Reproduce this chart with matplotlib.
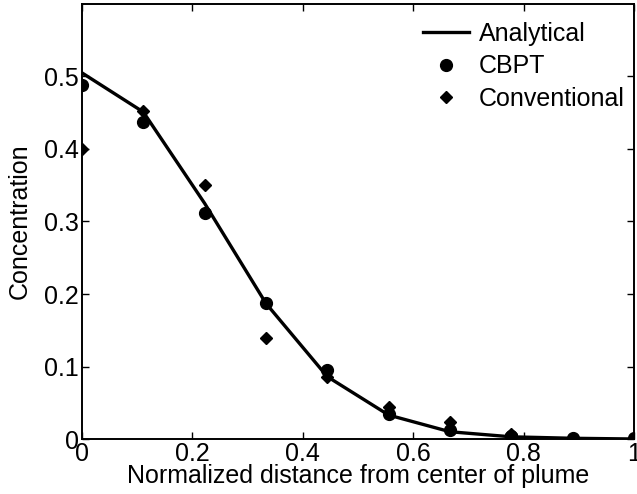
import matplotlib
matplotlib.use("Agg")
import matplotlib.pyplot as plt

x = [0.0, 0.1111, 0.2222, 0.3333, 0.4444, 0.5556, 0.6667, 0.7778, 0.8889, 1.0]
analytical = [0.505, 0.451, 0.325, 0.187, 0.086, 0.033, 0.010, 0.003, 0.001, 0.0]
cbpt = [0.488, 0.437, 0.312, 0.188, 0.095, 0.035, 0.013, 0.004, 0.001, 0.001]
conventional = [0.400, 0.452, 0.350, 0.140, 0.085, 0.044, 0.023, 0.007, 0.001, 0.001]

xticks = [0, 0.2, 0.4, 0.6, 0.8, 1]
xticklabels = ["0", "0.2", "0.4", "0.6", "0.8", "1"]
yticks = [0, 0.1, 0.2, 0.3, 0.4, 0.5]
yticklabels = ["0", "0.1", "0.2", "0.3", "0.4", "0.5"]

plt.rcParams['font.family'] = ['Liberation Sans', 'DejaVu Sans']
fig = plt.figure(figsize=(6.37, 4.94), dpi=100)
ax = fig.add_axes([82/637, 1 - 439/494, (634 - 82)/637, (439 - 4)/494])

ax.plot(x, analytical, color='black', lw=2.4, label='Analytical', zorder=2)
ax.plot(x, cbpt, 'o', color='black', ms=8.5, label='CBPT', zorder=3)
ax.plot(x, conventional, 'D', color='black', ms=6.2, label='Conventional', zorder=3)

ax.set_xlim(0, 1)
ax.set_ylim(0, 0.6)
ax.set_xticks(xticks)
ax.set_xticklabels(xticklabels)
ax.set_yticks(yticks)
ax.set_yticklabels(yticklabels)
ax.tick_params(direction='in', top=True, right=True, labelsize=18, length=5, width=1, pad=2)
for s in ax.spines.values():
    s.set_linewidth(1.4)
ax.set_xlabel('Normalized distance from center of plume', fontsize=18, labelpad=-1)
ax.set_ylabel('Concentration', fontsize=18, labelpad=9)

ax.legend(loc='upper right', bbox_to_anchor=(1.002, 0.982), frameon=False,
          fontsize=18, handlelength=1.85, labelspacing=0.34, borderaxespad=0,
          handletextpad=0.4)

fig.savefig('out.png', dpi=100)
